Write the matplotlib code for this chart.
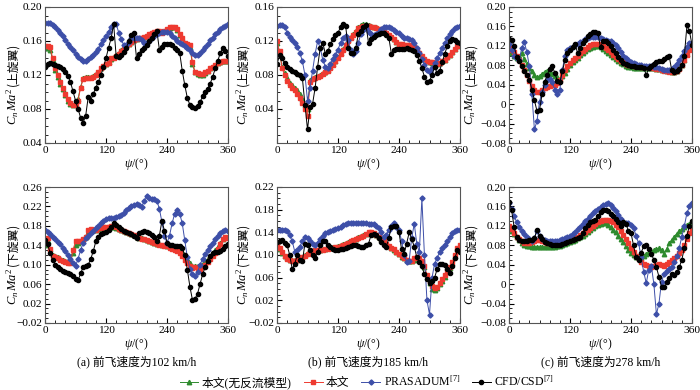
import numpy as np
import matplotlib
matplotlib.use("Agg")
import matplotlib.pyplot as plt
from matplotlib.ticker import MultipleLocator, FuncFormatter

plt.rcParams['font.family'] = ['Liberation Serif', 'Noto Sans CJK SC']
plt.rcParams['mathtext.fontset'] = 'custom'
plt.rcParams['mathtext.rm'] = 'Liberation Serif'
plt.rcParams['mathtext.it'] = 'Liberation Serif:italic'
plt.rcParams['mathtext.bf'] = 'Liberation Serif:bold'

# azimuth grid, 5 deg
psi = np.arange(0, 361, 5)

# ---- (a) 102 km/h, upper rotor ----
green_a_up = [.152, .152, .150, .138, .126, .118, .110, .103, .096, .090, .086, .085,
              .086, .092, .106, .116, .118, .118, .118, .119, .121, .124, .128, .131,
              .133, .135, .139, .141, .143, .146, .149, .152, .155, .157, .159, .161,
              .162, .163, .164, .165, .166, .168, .170, .171, .172, .172, .171, .172,
              .174, .175, .176, .176, .173, .167, .163, .157, .155, .153, .133, .123,
              .121, .120, .120, .122, .125, .128, .130, .132, .134, .135, .136, .137,
              .137]
red_a_up = [.154, .154, .153, .140, .128, .120, .112, .105, .098, .092, .087, .085,
            .085, .090, .105, .115, .117, .117, .117, .118, .120, .123, .128, .131,
            .133, .134, .140, .140, .142, .145, .148, .151, .154, .157, .159, .161,
            .162, .163, .164, .165, .166, .168, .170, .171, .172, .172, .170, .172,
            .174, .176, .177, .177, .174, .168, .164, .158, .156, .155, .135, .124,
            .122, .121, .121, .123, .125, .128, .130, .132, .134, .135, .136, .136,
            .136]
blue_a_up = [.181, .181, .181, .179, .176, .173, .170, .166, .161, .157, .153, .149,
             .145, .141, .139, .137, .137, .139, .141, .144, .147, .151, .156, .161,
             .166, .171, .176, .180, .180, .170, .162, .155, .155, .159, .163, .164,
             .164, .164, .161, .158, .158, .160, .163, .166, .168, .170, .171, .171,
             .171, .169, .166, .163, .160, .158, .156, .154, .152, .149, .146, .144,
             .143, .146, .149, .153, .157, .161, .164, .168, .171, .174, .176, .178,
             .180]
black_a_up = [.130, .133, .134, .133, .132, .131, .130, .127, .124, .119, .112, .101,
              .090, .080, .070, .064, .072, .094, .090, .098, .105, .112, .120, .129,
              .140, .152, .163, .180, .142, .141, .143, .147, .152, .160, .167, .170,
              .140, .145, .150, .152, .155, .160, .164, .168, .172, .150, .153, .156,
              .156, .156, .155, .152, .150, .146, .125, .108, .093, .085, .082, .081,
              .083, .088, .095, .100, .104, .110, .118, .128, .137, .146, .152, .148,
              .142]

# ---- (b) 185 km/h, upper rotor ----
green_b_up = [.118, .106, .090, .082, .076, .071, .068, .065, .062, .058, .052, .045,
              .040, .074, .077, .078, .079, .080, .082, .084, .086, .089, .093, .097,
              .101, .106, .111, .116, .121, .125, .128, .132, .136, .139, .140, .140,
              .139, .138, .137, .136, .134, .133, .131, .129, .127, .125, .122, .119,
              .117, .116, .115, .115, .115, .115, .113, .110, .106, .102, .099, .097,
              .095, .094, .093, .093, .094, .096, .098, .101, .104, .107, .111, .114,
              .116]
red_b_up = [.120, .108, .088, .080, .073, .068, .065, .062, .058, .053, .047, .040,
            .032, .072, .075, .077, .078, .079, .081, .083, .085, .088, .092, .096,
            .100, .105, .110, .115, .120, .124, .127, .131, .135, .137, .138, .138,
            .138, .137, .136, .135, .134, .133, .131, .129, .127, .125, .122, .119,
            .117, .116, .115, .115, .115, .115, .113, .110, .106, .102, .099, .097,
            .095, .095, .094, .093, .094, .096, .098, .101, .104, .107, .111, .114,
            .116]
blue_b_up = [.138, .139, .139, .136, .130, .125, .121, .118, .113, .106, .096, .080,
             .050, .065, .085, .105, .120, .112, .098, .090, .088, .093, .099, .104,
             .110, .118, .124, .126, .121, .110, .105, .108, .118, .128, .133, .135,
             .131, .128, .127, .128, .131, .134, .136, .137, .137, .135, .133, .131,
             .129, .126, .124, .123, .122, .121, .118, .112, .106, .099, .092, .086,
             .083, .088, .094, .100, .106, .112, .118, .123, .128, .132, .135, .137,
             .138]
black_b_up = [.093, .103, .100, .094, .090, .087, .085, .083, .081, .080, .076, .045,
              .016, .042, .046, .065, .090, .112, .118, .105, .108, .116, .122, .127,
              .130, .136, .140, .138, .112, .106, .106, .112, .128, .132, .137, .139,
              .118, .122, .125, .127, .128, .129, .129, .127, .124, .105, .110, .111,
              .111, .111, .111, .112, .111, .110, .108, .104, .097, .088, .078, .072,
              .073, .080, .090, .082, .085, .095, .105, .114, .120, .122, .121, .119,
              .118]

# ---- (c) 278 km/h, upper rotor ----
green_c_up = [.110, .105, .100, .095, .100, .105, .092, .082, .075, .068, .060, .055,
              .058, .063, .067, .068, .065, .062, .058, .055, .052, .058, .065, .073,
              .080, .086, .091, .096, .101, .106, .110, .113, .116, .118, .119, .119,
              .117, .113, .109, .105, .101, .097, .093, .089, .085, .082, .079, .077,
              .076, .075, .075, .075, .075, .075, .075, .075, .074, .074, .073, .072,
              .071, .070, .069, .068, .067, .067, .069, .074, .081, .091, .103, .113,
              .117]
red_c_up = [.115, .112, .108, .100, .090, .080, .070, .060, .048, .038, .030, .026,
            .025, .030, .034, .036, .038, .040, .040, .043, .050, .060, .070, .078,
            .085, .090, .095, .100, .105, .110, .114, .118, .121, .123, .124, .124,
            .122, .119, .115, .111, .107, .102, .097, .093, .089, .086, .083, .081,
            .080, .079, .078, .078, .077, .077, .077, .076, .075, .074, .073, .072,
            .070, .069, .068, .067, .066, .066, .068, .073, .080, .090, .102, .112,
            .116]
blue_c_up = [.124, .112, .100, .094, .090, .115, .128, .108, .078, .020, -.052, -.035,
             .005, .025, .040, .050, .052, .045, .030, .020, .030, .070, .100, .112,
             .115, .118, .121, .124, .127, .131, .134, .136, .138, .139, .139, .138,
             .137, .135, .133, .131, .129, .126, .122, .116, .108, .100, .094, .090,
             .087, .085, .083, .081, .080, .079, .079, .078, .078, .077, .076, .075,
             .073, .071, .070, .070, .072, .076, .082, .090, .100, .110, .118, .125,
             .126]
black_c_up = [.134, .132, .120, .098, .088, .078, .068, .060, .050, .030, .008, -.014,
              -.012, .020, .045, .060, .072, .078, .065, .048, .045, .068, .090, .105,
              .112, .118, .124, .105, .115, .125, .132, .140, .145, .148, .148, .146,
              .117, .130, .130, .125, .120, .112, .105, .097, .090, .085, .082, .080,
              .079, .078, .077, .076, .076, .075, .060, .074, .078, .082, .086, .088,
              .088, .093, .098, .100, .070, .066, .068, .072, .080, .100, .162, .150,
              .122]

# ---- (a) 102 km/h, lower rotor ----
green_a_lo = [.140, .148, .132, .120, .117, .115, .112, .109, .107, .106, .105, .125,
              .140, .145, .148, .152, .158, .168, .172, .172, .172, .174, .175, .176,
              .176, .177, .178, .178, .176, .174, .172, .170, .167, .165, .163, .161,
              .158, .156, .154, .152, .150, .148, .146, .145, .143, .142, .141, .140,
              .139, .137, .135, .133, .131, .129, .126, .120, .112, .104, .098, .098,
              .097, .098, .102, .107, .112, .118, .124, .130, .137, .145, .152, .157,
              .158]
red_a_lo = [.150, .155, .132, .118, .115, .113, .110, .107, .105, .104, .103, .130,
            .148, .148, .148, .152, .158, .172, .174, .172, .172, .175, .176, .177,
            .177, .178, .179, .179, .177, .174, .172, .170, .167, .165, .163, .161,
            .158, .155, .153, .152, .150, .148, .146, .144, .142, .141, .140, .139,
            .138, .135, .132, .130, .128, .125, .118, .110, .103, .097, .093, .095,
            .092, .090, .095, .100, .105, .112, .118, .125, .132, .142, .152, .158,
            .155]
blue_a_lo = [.172, .168, .163, .158, .153, .147, .142, .135, .128, .120, .112, .104,
             .097, .112, .130, .145, .155, .160, .165, .170, .175, .180, .186, .191,
             .195, .197, .197, .197, .198, .200, .203, .207, .212, .217, .220, .222,
             .226, .222, .218, .232, .242, .238, .236, .235, .232, .215, .188, .160,
             .145, .160, .185, .205, .212, .205, .185, .150, .115, .092, .080, .076,
             .085, .100, .112, .122, .130, .138, .145, .152, .160, .166, .170, .172,
             .170]
black_a_lo = [.150, .142, .125, .110, .100, .095, .091, .088, .085, .083, .080, .076,
              .070, .068, .082, .095, .098, .100, .112, .128, .148, .158, .163, .166,
              .168, .172, .177, .185, .182, .178, .174, .170, .168, .166, .163, .160,
              .155, .165, .168, .169, .168, .165, .162, .158, .148, .160, .190, .170,
              .145, .140, .140, .138, .138, .138, .134, .120, .090, .055, .028, .030,
              .040, .060, .080, .095, .108, .118, .124, .126, .127, .128, .132, .138,
              .142]

# ---- (b) 185 km/h, lower rotor ----
green_b_lo = [.115, .110, .104, .098, .094, .092, .091, .091, .092, .094, .097, .100,
              .103, .106, .108, .109, .109, .109, .110, .111, .112, .113, .114, .115,
              .116, .117, .119, .121, .123, .125, .127, .129, .131, .133, .135, .137,
              .139, .139, .137, .135, .132, .128, .124, .120, .116, .112, .109, .105,
              .101, .097, .094, .091, .089, .089, .092, .094, .092, .088, .078, .062,
              .050, .040, .038, .042, .048, .055, .062, .070, .077, .086, .098, .110,
              .115]
red_b_lo = [.117, .112, .105, .098, .093, .091, .090, .090, .091, .093, .096, .099,
            .102, .105, .107, .108, .108, .108, .109, .110, .111, .112, .113, .114,
            .115, .116, .118, .120, .122, .124, .126, .128, .130, .132, .134, .137,
            .140, .140, .138, .135, .132, .128, .124, .120, .116, .112, .110, .106,
            .102, .098, .095, .092, .090, .090, .094, .096, .094, .090, .080, .065,
            .054, .046, .042, .044, .050, .058, .065, .072, .078, .088, .100, .112,
            .117]
blue_b_lo = [.144, .144, .144, .144, .143, .135, .124, .106, .108, .115, .125, .132,
             .130, .125, .120, .117, .122, .129, .134, .138, .140, .142, .144, .146,
             .148, .150, .153, .155, .156, .157, .157, .157, .156, .156, .156, .156,
             .155, .155, .155, .152, .148, .140, .132, .135, .145, .152, .156, .150,
             .145, .125, .100, .088, .090, .130, .155, .120, .105, .200, .100, .020,
             -.005, .060, .085, .095, .105, .112, .118, .125, .132, .138, .142, .144,
             .144]
black_b_lo = [.123, .125, .126, .122, .117, .100, .075, .085, .100, .092, .090, .120,
              .118, .108, .100, .094, .105, .117, .124, .124, .118, .114, .110, .108,
              .109, .110, .111, .112, .114, .116, .117, .117, .116, .115, .114, .117,
              .120, .135, .137, .135, .130, .123, .118, .114, .130, .150, .151, .151,
              .140, .110, .102, .120, .140, .128, .115, .096, .088, .080, .066, .058,
              .051, .054, .060, .075, .085, .085, .082, .075, .069, .080, .095, .108,
              .105]

# ---- (c) 278 km/h, lower rotor ----
green_c_lo = [.115, .110, .104, .097, .090, .085, .081, .079, .078, .077, .077, .077,
              .077, .077, .077, .077, .077, .077, .077, .078, .079, .080, .082, .084,
              .086, .088, .091, .094, .097, .100, .104, .108, .112, .116, .119, .122,
              .124, .125, .125, .122, .117, .112, .107, .100, .093, .086, .078, .070,
              .064, .060, .056, .053, .054, .058, .063, .066, .068, .070, .072, .074,
              .070, .063, .072, .084, .091, .098, .104, .110, .113, .117, .121, .124,
              .125]
red_c_lo = [.119, .113, .105, .098, .092, .088, .085, .084, .085, .087, .089, .091,
            .090, .088, .086, .084, .084, .084, .084, .084, .085, .086, .087, .089,
            .090, .092, .095, .098, .101, .105, .108, .112, .116, .120, .123, .127,
            .130, .132, .133, .132, .130, .127, .122, .117, .110, .102, .093, .084,
            .075, .066, .058, .051, .046, .042, .039, .037, .036, .038, .040, .042,
            .040, .038, .042, .046, .050, .054, .058, .064, .070, .080, .092, .105,
            .115]
blue_c_lo = [.167, .155, .140, .128, .118, .110, .103, .098, .092, .088, .095, .110,
             .100, .092, .090, .088, .088, .088, .088, .089, .090, .092, .094, .097,
             .100, .104, .108, .113, .118, .124, .129, .135, .140, .146, .151, .155,
             .158, .162, .166, .167, .162, .157, .150, .143, .135, .126, .125, .125,
             .122, .115, .100, .084, .055, .025, .002, .030, .038, .000, -.062, -.040,
             .005, .020, .028, .032, .036, .045, .057, .075, .098, .120, .146, .160,
             .167]
black_c_lo = [.170, .153, .118, .098, .090, .088, .088, .089, .090, .091, .094, .112,
              .100, .092, .087, .084, .082, .081, .080, .080, .081, .082, .084, .086,
              .088, .090, .093, .096, .098, .105, .115, .122, .127, .130, .133, .140,
              .148, .153, .152, .150, .145, .140, .135, .128, .120, .128, .124, .110,
              .105, .080, .055, .050, .065, .078, .080, .072, .062, .050, .035, .015,
              -.005, -.006, .005, .012, .020, .018, .025, .035, .050, .075, .100, .120,
              .130]

captions = ['(a) 前飞速度为102 km/h', '(b) 前飞速度为185 km/h', '(c) 前飞速度为278 km/h']
legend_labels = ['本文(无反流模型)', '本文', r'PRASADUM$^{[7]}$', r'CFD/CSD$^{[7]}$']

panels = [
    (green_a_up, red_a_up, blue_a_up, black_a_up, (0.04, 0.20), '(上旋翼)'),
    (green_b_up, red_b_up, blue_b_up, black_b_up, (0.0, 0.16), '(上旋翼)'),
    (green_c_up, red_c_up, blue_c_up, black_c_up, (-0.08, 0.20), '(上旋翼)'),
    (green_a_lo, red_a_lo, blue_a_lo, black_a_lo, (-0.02, 0.26), '(下旋翼)'),
    (green_b_lo, red_b_lo, blue_b_lo, black_b_lo, (-0.02, 0.22), '(下旋翼)'),
    (green_c_lo, red_c_lo, blue_c_lo, black_c_lo, (-0.08, 0.20), '(下旋翼)'),
]

styles = [
    dict(color='#2e8b2e', marker='^', ms=3.2),
    dict(color='#ee3a30', marker='s', ms=2.8),
    dict(color='#3d4fa8', marker='D', ms=2.6),
    dict(color='#000000', marker='o', ms=3.0),
]

fig = plt.figure(figsize=(7, 3.9), dpi=100)
lefts = [45, 277, 509]
tops = [7, 187]
w, h = 183, 136
label_x = [-0.155, -0.165, -0.19]


def fmt(v, pos):
    if abs(v) < 1e-9:
        return '0'
    return f'{v:.2f}'.replace('-', '\u2212')


handles = []
for k, (g, r, b, bk, ylim, rotor) in enumerate(panels):
    row, col = divmod(k, 3)
    ax = fig.add_axes([lefts[col] / 700, 1 - (tops[row] + h) / 390, w / 700, h / 390])
    lines = []
    for data, st in zip((g, r, b, bk), styles):
        ln, = ax.plot(psi, data, lw=0.7, mec=st['color'], mfc=st['color'], **st)
        lines.append(ln)
    if k == 0:
        handles = lines
    ax.set_xlim(0, 360)
    ax.set_ylim(*ylim)
    ax.xaxis.set_major_locator(MultipleLocator(120))
    ax.xaxis.set_minor_locator(MultipleLocator(20))
    ticks = np.arange(ylim[0], ylim[1] + 1e-6, 0.04)
    if k == 1:
        ticks = ticks[1:]
    ax.set_yticks(ticks)
    ax.yaxis.set_minor_locator(MultipleLocator(0.01))
    ax.yaxis.set_major_formatter(FuncFormatter(fmt))
    ax.tick_params(which='both', direction='in', top=False, right=False, labelsize=8.2, pad=2)
    ax.tick_params(which='major', length=3.5)
    ax.tick_params(which='minor', length=2)
    for sp in ax.spines.values():
        sp.set_color('#555555')
        sp.set_linewidth(0.8)
    ax.set_xlabel(r'$\psi$/(°)', fontsize=8.5, labelpad=1)
    # y label: math part + chinese part sharing one baseline
    ax.text(label_x[col], 0.41, r'$C_n\,Ma^2$', transform=ax.transAxes, rotation=90,
            rotation_mode='anchor', ha='right', va='baseline', fontsize=9)
    ax.text(label_x[col], 0.42, rotor, transform=ax.transAxes, rotation=90,
            rotation_mode='anchor', ha='left', va='baseline', fontsize=8.5,
            family=['Noto Sans CJK SC'])
    if row == 1:
        fig.text((lefts[col] + w / 2) / 700, 1 - 362 / 390, captions[col],
                 ha='center', va='center', fontsize=8.5)

fig.legend(handles, legend_labels, loc='center', bbox_to_anchor=(367 / 700, 1 - 382 / 390),
           ncol=4, frameon=False, fontsize=8.5, handlelength=1.6, handletextpad=0.3,
           columnspacing=1.0)

fig.savefig('out.png', dpi=100)
